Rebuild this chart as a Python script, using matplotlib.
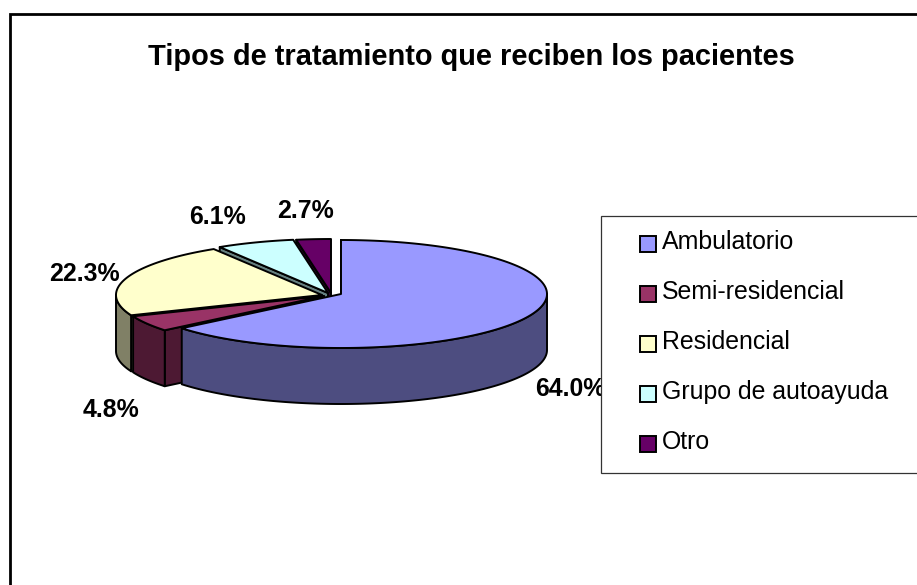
"""
Pie chart (3D look) of treatment types
"""
import matplotlib as mtpl
mtpl.use('Agg')
import matplotlib.pyplot as plt
from matplotlib.patches import Polygon, Rectangle
import numpy as np

categories = ['Ambulatorio', 'Semi-residencial', 'Residencial', 'Grupo de autoayuda', 'Otro']
values = [64.0, 4.8, 22.3, 6.1, 2.7]
labels = ['64.0%', '4.8%', '22.3%', '6.1%', '2.7%']
title = 'Tipos de tratamiento que reciben los pacientes'

top_colors = ['#9999FF', '#993366', '#FFFFCC', '#CCFFFF', '#660066']
side_colors = ['#4D4D80', '#4D1933', '#808066', '#668080', '#330033']

# slice centres after exploding, in pixels
centres = [(341, 294), (324, 296), (322, 295), (328, 293), (331, 293)]
label_pos = [(570, 389), (111, 410), (84, 274), (217, 217), (306, 211)]

rx, ry, depth = 206, 54, 56

mtpl.rcParams['font.family'] = ['Liberation Sans', 'DejaVu Sans']


def rim(cx, cy, a0, a1, drop=0):
    # points on the ellipse, angles clockwise from the top in degrees
    t = np.radians(np.linspace(a0, a1, max(int(abs(a1 - a0)) * 2, 2)))
    return np.column_stack([cx + rx * np.sin(t), cy - ry * np.cos(t) + drop])


def draw_slice(ax, centre, a0, a1, top, side, z):
    cx, cy = centre
    edge = dict(edgecolor='black', linewidth=1.4, joinstyle='round', zorder=z)

    # cut face at the start of the slice
    start = rim(cx, cy, a0, a0)[0]
    face = [(cx, cy), start, start + [0, depth], (cx, cy + depth)]
    ax.add_patch(Polygon(face, facecolor=side, **edge))

    # outer wall, only the part facing the viewer
    lo, hi = max(a0, 90), min(a1, 270)
    if lo < hi:
        upper = rim(cx, cy, lo, hi)
        lower = rim(cx, cy, hi, lo, drop=depth)
        ax.add_patch(Polygon(np.vstack([upper, lower]), facecolor=side, **edge))

    outline = np.vstack([[(cx, cy)], rim(cx, cy, a0, a1)])
    ax.add_patch(Polygon(outline, facecolor=top, **edge))


fig = plt.figure(figsize=(9.17, 5.85), dpi=100)
ax = fig.add_axes([0, 0, 1, 1])
ax.set_xlim(0, 917)
ax.set_ylim(585, 0)
ax.axis('off')

# chart frame, runs off the picture on the right and bottom
ax.add_patch(Rectangle((10, 14), 1000, 1000, facecolor='white', edgecolor='black', linewidth=2, zorder=0))

ax.text(471, 57, title, fontsize=20.9, fontweight='bold', ha='center', va='center')

stops = np.cumsum([0] + values) / sum(values) * 360
for i in range(len(values) - 1, -1, -1):
    draw_slice(ax, centres[i], stops[i], stops[i + 1], top_colors[i], side_colors[i], 10 + len(values) - i)

for lab, (x, y) in zip(labels, label_pos):
    ax.text(x, y, lab, fontsize=17.9, fontweight='bold', ha='center', va='center', zorder=20)

# legend box
ax.add_patch(Rectangle((601, 216), 400, 257, facecolor='white', edgecolor='#333333', linewidth=0.9, zorder=30))
for i, name in enumerate(categories):
    y = 241 + i * 50
    ax.add_patch(Rectangle((640, y - 5), 16, 16, facecolor=top_colors[i], edgecolor='black', linewidth=1.4, zorder=31))
    ax.text(662, y + 1, name, fontsize=17.9, ha='left', va='center', zorder=31)

fig.savefig('out.png', dpi=100)
